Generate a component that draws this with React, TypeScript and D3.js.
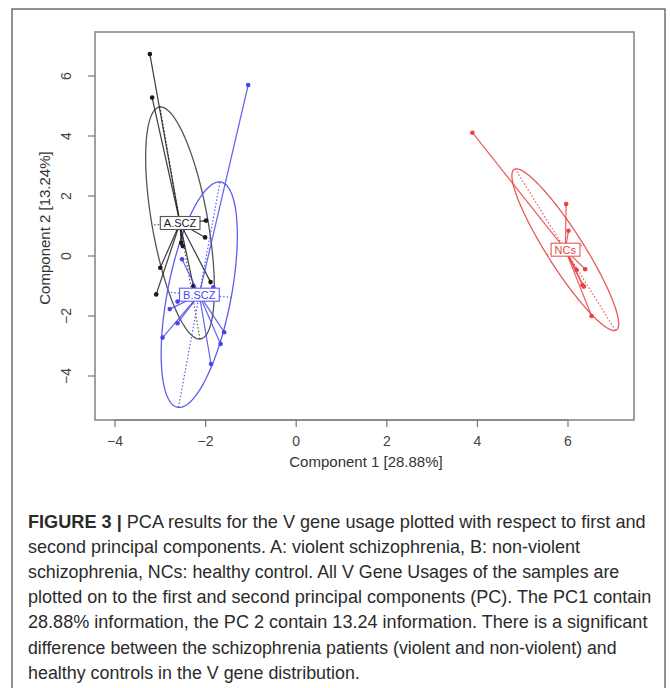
import React, { useRef, useEffect } from 'react';
import * as d3 from 'd3';

// tick values of both axes
const xTicks = [-4, -2, 0, 2, 4, 6];
const yTicks = [-4, -2, 0, 2, 4, 6];

const groupNames = ['A.SCZ', 'B.SCZ', 'NCs'];
const groupColors = ['#1a1a1a', '#4646ee', '#e64343'];
const ellipseColors = ['#555555', '#5c5cf2', '#e65a5a'];

// sample scores (PC1, PC2) per group
const scoresA = [
  [-3.23, 6.73], [-3.18, 5.28], [-1.99, 1.18], [-2.01, 0.62], [-2.54, 0.44],
  [-2.505, 0.33], [-3.0, -0.39], [-3.09, -1.28], [-1.89, -0.87], [-2.27, -1.0],
];
const scoresB = [
  [-1.06, 5.7], [-2.52, -0.11], [-1.83, -1.04], [-2.62, -1.52], [-2.79, -1.77],
  [-2.62, -2.24], [-2.95, -2.72], [-1.59, -2.54], [-1.67, -2.93], [-1.88, -3.6],
];
const scoresNC = [
  [3.89, 4.11], [5.96, 1.73], [6.01, 0.84], [6.38, -0.44], [6.19, -0.47],
  [6.32, -0.97], [6.35, -1.02], [6.52, -2.0],
];

// group centres and ellipse semi-axis end points (data units)
const centres = [[-2.565, 1.1], [-2.14, -1.29], [5.94, 0.21]];
const majorEnds = [[-3.005, 4.967], [-1.682, 2.467], [4.834, 2.9]];
const minorEnds = [[-3.183, 1.03], [-1.435, -1.376], [6.347, 0.377]];

const xTitle = 'Component 1 [28.88%]';
const yTitle = 'Component 2 [13.24%]';

const captionLines = [
  'PCA results for the V gene usage plotted with respect to first and',
  'second principal components. A: violent schizophrenia, B: non-violent',
  'schizophrenia, NCs: healthy control. All V Gene Usages of the samples are',
  'plotted on to the first and second principal components (PC). The PC1 contain',
  '28.88% information, the PC 2 contain 13.24 information. There is a significant',
  'difference between the schizophrenia patients (violent and non-violent) and',
  'healthy controls in the V gene distribution.',
];
const captionWidths = [618, 552, 592, 624, 620, 589, 332];

const App = () => {
  const svgRef = useRef(null);

  useEffect(() => {
    const svg = d3.select(svgRef.current);
    svg.selectAll('*').remove();

    const width = 670;
    const height = 688;
    const box = { left: 95, right: 634, top: 32, bottom: 420 };

    svg.attr('width', width).attr('height', height);

    svg.append('rect')
      .attr('x', 12).attr('y', 9)
      .attr('width', 653).attr('height', 690)
      .attr('fill', '#fff')
      .attr('stroke', '#4a4a4a')
      .attr('stroke-width', 1.2);

    const x = d3.scaleLinear().domain([-4, 6]).range([115, 568]);
    const y = d3.scaleLinear().domain([-4, 6]).range([376, 76]);

    // plot frame
    svg.append('rect')
      .attr('x', box.left).attr('y', box.top)
      .attr('width', box.right - box.left).attr('height', box.bottom - box.top)
      .attr('fill', 'none')
      .attr('stroke', '#8a8a8a')
      .attr('stroke-width', 1.6);

    // x axis
    const xa = svg.append('g');
    xa.append('line')
      .attr('x1', x(-4)).attr('x2', x(6))
      .attr('y1', box.bottom).attr('y2', box.bottom)
      .attr('stroke', '#777').attr('stroke-width', 1.2);
    xa.selectAll('line.tick').data(xTicks).join('line')
      .attr('class', 'tick')
      .attr('x1', d => x(d)).attr('x2', d => x(d))
      .attr('y1', box.bottom).attr('y2', box.bottom + 7)
      .attr('stroke', '#777').attr('stroke-width', 1.2);
    xa.selectAll('text').data(xTicks).join('text')
      .attr('x', d => x(d)).attr('y', box.bottom + 26)
      .attr('text-anchor', 'middle')
      .attr('font-family', 'Liberation Sans, Arial, sans-serif')
      .attr('font-size', 14)
      .attr('fill', '#444')
      .text(d => d3.format('d')(d));

    // y axis
    const ya = svg.append('g');
    ya.selectAll('line').data(yTicks).join('line')
      .attr('x1', box.left - 7).attr('x2', box.left)
      .attr('y1', d => y(d)).attr('y2', d => y(d))
      .attr('stroke', '#777').attr('stroke-width', 1.2);
    ya.selectAll('text').data(yTicks).join('text')
      .attr('transform', d => `translate(${box.left - 24},${y(d)}) rotate(-90)`)
      .attr('text-anchor', 'middle')
      .attr('font-family', 'Liberation Sans, Arial, sans-serif')
      .attr('font-size', 14)
      .attr('fill', '#444')
      .text(d => d3.format('d')(d));

    svg.append('text')
      .attr('x', 366).attr('y', 467)
      .attr('text-anchor', 'middle')
      .attr('font-family', 'Liberation Sans, Arial, sans-serif')
      .attr('font-size', 15)
      .attr('fill', '#333')
      .text(xTitle);

    svg.append('text')
      .attr('transform', 'translate(50,228) rotate(-90)')
      .attr('text-anchor', 'middle')
      .attr('font-family', 'Liberation Sans, Arial, sans-serif')
      .attr('font-size', 15)
      .attr('fill', '#333')
      .text(yTitle);

    const groups = [scoresA, scoresB, scoresNC];
    const plot = svg.append('g');

    const ellipseLine = d3.line().curve(d3.curveLinearClosed);

    groups.forEach((pts, i) => {
      const [cx, cy] = centres[i];
      const M = majorEnds[i];
      const N = minorEnds[i];
      const ring = d3.range(0, 2 * Math.PI, Math.PI / 90).map(t => [
        x(cx + Math.cos(t) * (M[0] - cx) + Math.sin(t) * (N[0] - cx)),
        y(cy + Math.cos(t) * (M[1] - cy) + Math.sin(t) * (N[1] - cy)),
      ]);
      plot.append('path')
        .attr('d', ellipseLine(ring))
        .attr('fill', 'none')
        .attr('stroke', ellipseColors[i])
        .attr('stroke-width', 1.3);

      [M, N].forEach(e => {
        plot.append('line')
          .attr('x1', x(2 * cx - e[0])).attr('y1', y(2 * cy - e[1]))
          .attr('x2', x(e[0])).attr('y2', y(e[1]))
          .attr('stroke', ellipseColors[i])
          .attr('stroke-width', 1.2)
          .attr('stroke-dasharray', '1.5,2');
      });
    });

    groups.forEach((pts, i) => {
      const [cx, cy] = centres[i];
      plot.append('g').selectAll('line').data(pts).join('line')
        .attr('x1', x(cx)).attr('y1', y(cy))
        .attr('x2', d => x(d[0])).attr('y2', d => y(d[1]))
        .attr('stroke', groupColors[i])
        .attr('stroke-opacity', 0.85)
        .attr('stroke-width', 1.2);
      plot.append('g').selectAll('circle').data(pts).join('circle')
        .attr('cx', d => x(d[0])).attr('cy', d => y(d[1]))
        .attr('r', 2.3)
        .attr('fill', groupColors[i]);
    });

    groups.forEach((pts, i) => {
      const [cx, cy] = centres[i];
      const g = plot.append('g');
      const t = g.append('text')
        .attr('x', x(cx)).attr('y', y(cy))
        .attr('text-anchor', 'middle')
        .attr('dominant-baseline', 'central')
        .attr('font-family', 'Liberation Sans, Arial, sans-serif')
        .attr('font-size', 11)
        .attr('fill', groupColors[i])
        .text(groupNames[i]);
      const bb = t.node().getBBox();
      g.insert('rect', 'text')
        .attr('x', bb.x - 3.5).attr('y', y(cy) - 6.5)
        .attr('width', bb.width + 7).attr('height', 13)
        .attr('fill', '#fff')
        .attr('stroke', ellipseColors[i])
        .attr('stroke-width', 1.1);
    });

    // caption, squeezed horizontally to the narrow journal face
    const cap = svg.append('g')
      .attr('font-family', 'Liberation Sans, Arial, sans-serif')
      .attr('font-size', 19)
      .attr('fill', '#2b2b2b');
    captionLines.forEach((line, i) => {
      const t = cap.append('text').attr('x', 0).attr('y', 0);
      if (i === 0) {
        t.append('tspan').attr('font-weight', 'bold').text('FIGURE 3 | ');
      }
      t.append('tspan').text(line);
      const natural = t.node().getComputedTextLength();
      const k = captionWidths[i] / natural;
      t.attr('transform', `translate(28,${528 + i * 25.1}) scale(${k},1)`);
    });
  }, []);

  return (
    <div style={{ position: 'absolute', left: 0, top: 0 }}>
      <svg ref={svgRef}></svg>
    </div>
  );
};

export default App;
